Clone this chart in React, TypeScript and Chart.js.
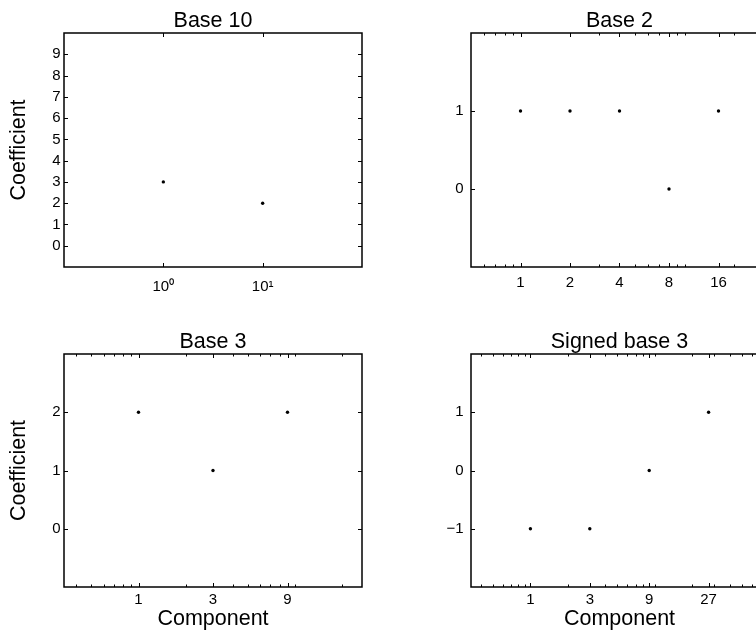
import React, { useEffect, useRef } from 'react';
import { Chart, registerables } from 'chart.js';

Chart.register(...registerables);

// ---- data ----
const titles = ['Base 10', 'Base 2', 'Base 3', 'Signed base 3'];
const xAxisLabel = 'Component';
const yAxisLabel = 'Coefficient';

const base10Components = [1, 10];
const base10Coefficients = [3, 2];
const base10XTicks = [1, 10];
const base10XTickLabels = ['10\u2070', '10\u00B9'];
const base10YTicks = [0, 1, 2, 3, 4, 5, 6, 7, 8, 9];

const base2Components = [1, 2, 4, 8, 16];
const base2Coefficients = [1, 1, 1, 0, 1];
const base2XTicks = [1, 2, 4, 8, 16, 32];
const base2XTickLabels = ['1', '2', '4', '8', '16', '32'];
const base2YTicks = [0, 1];

const base3Components = [1, 3, 9];
const base3Coefficients = [2, 1, 2];
const base3XTicks = [1, 3, 9];
const base3XTickLabels = ['1', '3', '9'];
const base3YTicks = [0, 1, 2];

const signedComponents = [1, 3, 9, 27];
const signedCoefficients = [-1, -1, 0, 1];
const signedXTicks = [1, 3, 9, 27, 81];
const signedXTickLabels = ['1', '3', '9', '27', '81'];
const signedYTicks = [-1, 0, 1];

const FONT = "'Liberation Sans', Arial, Helvetica, sans-serif";

function logMinorTicks(min: number, max: number, majors: number[]): number[] {
  const out: number[] = [];
  const e0 = Math.floor(Math.log10(min));
  const e1 = Math.ceil(Math.log10(max));
  for (let e = e0; e <= e1; e++) {
    for (let m = 1; m <= 9; m++) {
      const v = m * Math.pow(10, e);
      if (v > min * 1.0001 && v < max * 0.9999 && !majors.some((t) => Math.abs(t - v) < 1e-9 * v)) {
        out.push(v);
      }
    }
  }
  return out;
}

const framePlugin = {
  id: 'frame',
  afterDraw(chart: any, _args: any, opts: any) {
    const { ctx, chartArea: a } = chart;
    const xs = chart.scales.x;
    const ys = chart.scales.y;
    ctx.save();
    ctx.strokeStyle = '#000';
    ctx.lineWidth = 1;
    ctx.beginPath();
    const xt = (v: number, len: number) => {
      const p = Math.round(xs.getPixelForValue(v)) + 0.5;
      ctx.moveTo(p, a.bottom);
      ctx.lineTo(p, a.bottom - len);
      ctx.moveTo(p, a.top);
      ctx.lineTo(p, a.top + len);
    };
    xs.ticks.forEach((t: any) => xt(t.value, 4));
    (opts.xMinor || []).forEach((v: number) => xt(v, 2.5));
    ys.ticks.forEach((t: any) => {
      const p = Math.round(ys.getPixelForValue(t.value)) + 0.5;
      ctx.moveTo(a.left, p);
      ctx.lineTo(a.left + 4, p);
      ctx.moveTo(a.right, p);
      ctx.lineTo(a.right - 4, p);
    });
    ctx.stroke();
    ctx.lineWidth = 1.5;
    ctx.strokeRect(a.left, a.top, a.right - a.left, a.bottom - a.top);
    ctx.restore();
  },
};

type PanelSpec = {
  title: string;
  components: number[];
  coefficients: number[];
  xMin: number;
  xMax: number;
  xTicks: number[];
  xTickLabels: string[];
  minor: boolean;
  yMin: number;
  yMax: number;
  yTicks: number[];
  showXLabel: boolean;
  showYLabel: boolean;
  xTickPad: number;
  yTickPad: number;
  boxLeft: number;
  boxTop: number;
  boxW: number;
  boxH: number;
};

const L = 64;
const T = 33;
const R = 16;
const B = 47;

function Panel({ spec }: { spec: PanelSpec }) {
  const ref = useRef<HTMLCanvasElement | null>(null);
  const width = L + spec.boxW + R;
  const height = T + spec.boxH + B;

  useEffect(() => {
    if (!ref.current) return;
    const xMinor = spec.minor ? logMinorTicks(spec.xMin, spec.xMax, spec.xTicks) : [];
    const chart = new Chart(ref.current, {
      type: 'scatter',
      data: {
        datasets: [
          {
            data: spec.components.map((c, i) => ({ x: c, y: spec.coefficients[i] })),
            pointRadius: 1.7,
            pointHoverRadius: 1.7,
            pointBackgroundColor: '#000',
            pointBorderWidth: 0,
            showLine: false,
          },
        ],
      },
      options: {
        responsive: false,
        animation: false,
        devicePixelRatio: 1,
        events: [],
        layout: { padding: { left: 0, top: 0, right: R, bottom: 0 } },
        plugins: {
          legend: { display: false },
          tooltip: { enabled: false },
          // @ts-ignore
          frame: { xMinor },
        },
        scales: {
          x: {
            type: 'logarithmic',
            position: 'bottom',
            min: spec.xMin,
            max: spec.xMax,
            bounds: 'data',
            afterBuildTicks: (s: any) => {
              s.ticks = spec.xTicks.map((v) => ({ value: v }));
            },
            afterFit: (s: any) => {
              s.height = B;
            },
            ticks: {
              autoSkip: false,
              maxRotation: 0,
              minRotation: 0,
              padding: spec.xTickPad,
              color: '#000',
              font: { family: FONT, size: 15, lineHeight: 1.2 },
              callback: (_v: any, i: number) => spec.xTickLabels[i],
            },
            grid: { display: false, drawTicks: false },
            border: { display: false },
            title: {
              display: spec.showXLabel,
              text: xAxisLabel,
              color: '#000',
              font: { family: FONT, size: 21.5, lineHeight: 1.2 },
              padding: { top: 0, bottom: 1.6 },
            },
          },
          xTop: {
            type: 'linear',
            position: 'top',
            min: 0,
            max: 1,
            ticks: { display: false },
            grid: { display: false, drawTicks: false },
            border: { display: false },
            afterFit: (s: any) => {
              s.height = T;
            },
            title: {
              display: true,
              text: spec.title,
              color: '#000',
              font: { family: FONT, size: 21.5, lineHeight: 1.2 },
              padding: { top: 8.6, bottom: 0 },
            },
          },
          y: {
            type: 'linear',
            position: 'left',
            min: spec.yMin,
            max: spec.yMax,
            bounds: 'data',
            afterBuildTicks: (s: any) => {
              s.ticks = spec.yTicks.map((v) => ({ value: v }));
            },
            afterFit: (s: any) => {
              s.width = L;
            },
            ticks: {
              padding: spec.yTickPad,
              color: '#000',
              font: { family: FONT, size: 15, lineHeight: 1.2 },
              callback: (v: any) => (Number(v) < 0 ? '\u2212' + Math.abs(Number(v)) : String(v)),
            },
            grid: { display: false, drawTicks: false },
            border: { display: false },
            title: {
              display: spec.showYLabel,
              text: yAxisLabel,
              color: '#000',
              font: { family: FONT, size: 21.5, lineHeight: 1.2 },
              padding: { top: 6.6, bottom: 0 },
            },
          },
        },
      } as any,
      plugins: [framePlugin as any],
    });
    return () => chart.destroy();
  }, [spec]);

  return (
    <canvas
      ref={ref}
      width={width}
      height={height}
      style={{
        position: 'absolute',
        left: spec.boxLeft - L,
        top: spec.boxTop - T,
        width,
        height,
        display: 'block',
      }}
    />
  );
}

const panels: PanelSpec[] = [
  {
    title: titles[0],
    components: base10Components,
    coefficients: base10Coefficients,
    xMin: 0.1,
    xMax: 100,
    xTicks: base10XTicks,
    xTickLabels: base10XTickLabels,
    minor: false,
    yMin: -1,
    yMax: 10,
    yTicks: base10YTicks,
    showXLabel: false,
    showYLabel: true,
    xTickPad: 10.5,
    yTickPad: 3.5,
    boxLeft: 64,
    boxTop: 33,
    boxW: 298,
    boxH: 234,
  },
  {
    title: titles[1],
    components: base2Components,
    coefficients: base2Coefficients,
    xMin: 0.5,
    xMax: 32,
    xTicks: base2XTicks,
    xTickLabels: base2XTickLabels,
    minor: true,
    yMin: -1,
    yMax: 2,
    yTicks: base2YTicks,
    showXLabel: false,
    showYLabel: false,
    xTickPad: 6.5,
    yTickPad: 7.5,
    boxLeft: 471,
    boxTop: 33,
    boxW: 297,
    boxH: 234,
  },
  {
    title: titles[2],
    components: base3Components,
    coefficients: base3Coefficients,
    xMin: 1 / 3,
    xMax: 27,
    xTicks: base3XTicks,
    xTickLabels: base3XTickLabels,
    minor: true,
    yMin: -1,
    yMax: 3,
    yTicks: base3YTicks,
    showXLabel: true,
    showYLabel: true,
    xTickPad: 3.5,
    yTickPad: 3.5,
    boxLeft: 64,
    boxTop: 354,
    boxW: 298,
    boxH: 233,
  },
  {
    title: titles[3],
    components: signedComponents,
    coefficients: signedCoefficients,
    xMin: 1 / 3,
    xMax: 81,
    xTicks: signedXTicks,
    xTickLabels: signedXTickLabels,
    minor: true,
    yMin: -2,
    yMax: 2,
    yTicks: signedYTicks,
    showXLabel: true,
    showYLabel: false,
    xTickPad: 3.5,
    yTickPad: 7.5,
    boxLeft: 471,
    boxTop: 354,
    boxW: 297,
    boxH: 233,
  },
];

export default function App() {
  return (
    <div
      style={{
        position: 'fixed',
        left: 0,
        top: 0,
        width: 756,
        height: 634,
        overflow: 'hidden',
        background: '#fff',
      }}
    >
      {panels.map((p, i) => (
        <Panel key={i} spec={p} />
      ))}
    </div>
  );
}
